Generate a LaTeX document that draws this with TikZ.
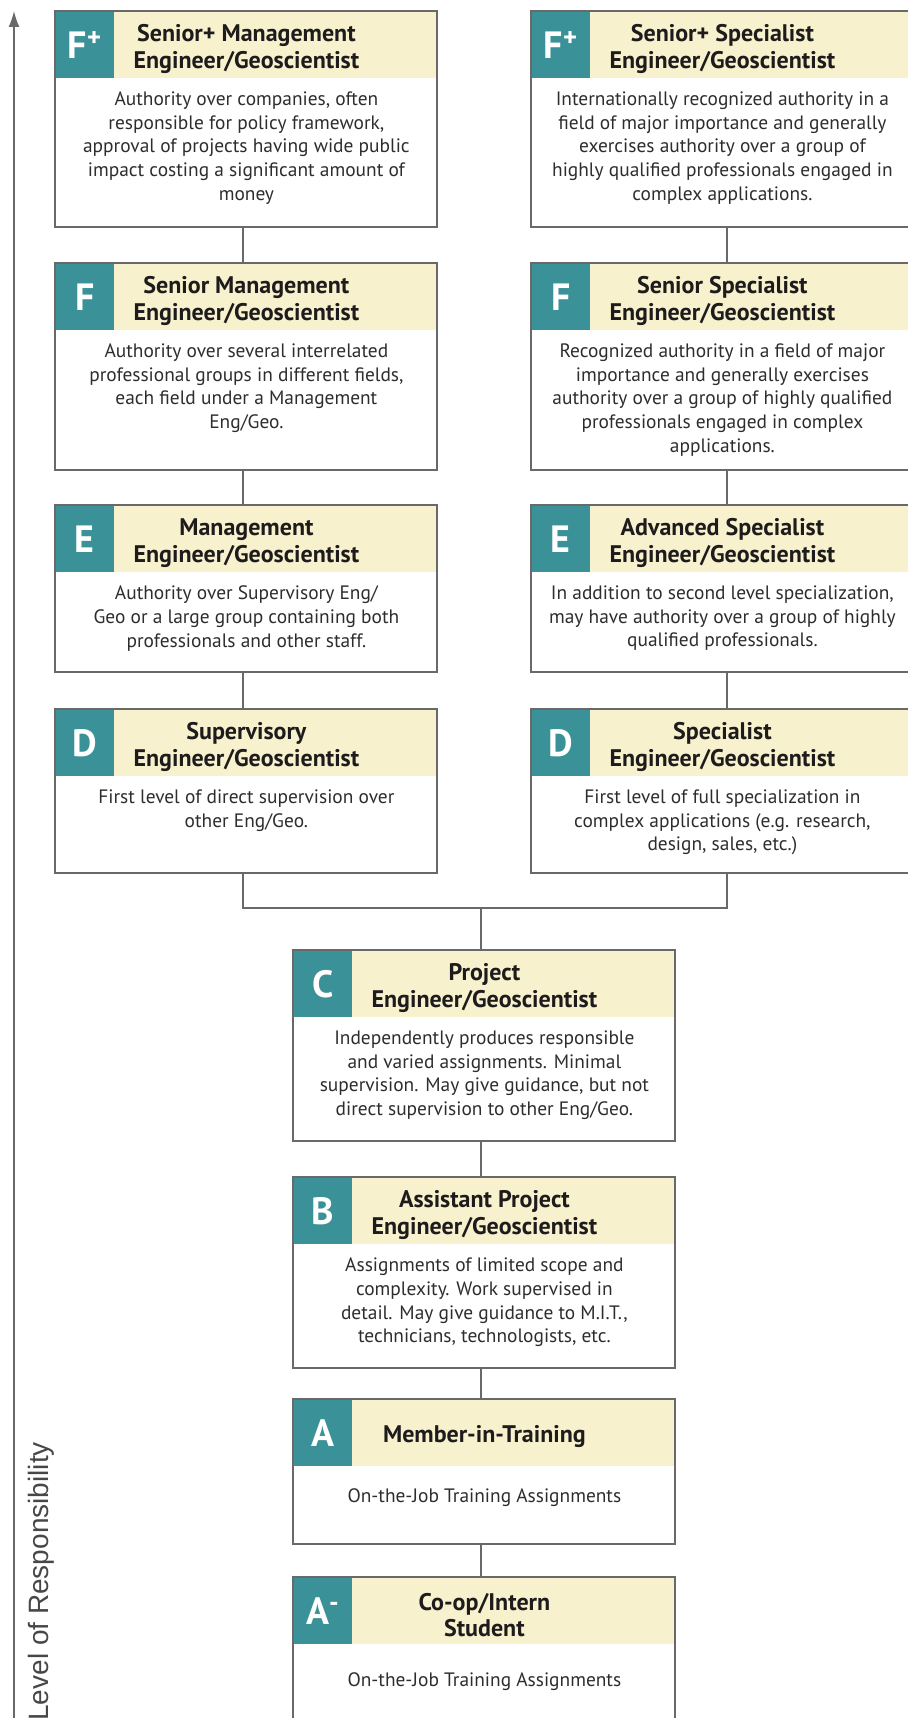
\documentclass[tikz,border=0pt]{standalone}
\usepackage{fontspec}
\setmainfont{PT Sans}
\setsansfont{Liberation Sans}
\usepackage{tikz}
\usetikzlibrary{arrows.meta,positioning,calc}
\definecolor{rankteal}{RGB}{58,145,152}
\definecolor{headcream}{RGB}{247,241,206}
\definecolor{linegray}{RGB}{105,105,105}
\definecolor{inkdark}{RGB}{30,27,28}
\definecolor{bodygray}{RGB}{45,45,45}

\tikzset{
  card/.style={draw=linegray, line width=0.75pt, anchor=north west, minimum width=191pt, inner sep=0pt, outer sep=0pt},
  head/.style={fill=headcream, anchor=north west, minimum width=191pt, minimum height=33.5pt, inner sep=0pt},
  title/.style={inner sep=0pt, align=center, text=inkdark, yshift=-2pt, font=\fontsize{12}{13.3}\selectfont\bfseries},
  tag/.style={fill=rankteal, anchor=north west, minimum width=29.5pt, minimum height=33.5pt, inner sep=0pt, text=white, font=\fontsize{19}{19}\selectfont\bfseries},
  desc/.style={anchor=north, inner sep=0pt, align=center, text=bodygray, yshift=-6.4pt, font=\fontsize{9.7}{11.8}\selectfont},
  link/.style={draw=linegray, line width=0.75pt}
}

\begin{document}
\begin{tikzpicture}[x=0.5pt, y=-0.5pt]
\useasboundingbox (0,0) rectangle (908,1718);
\clip (0,0) rectangle (908,1718);

% Axis
\coordinate (axbot) at (14,1740);
\coordinate (axtop) at (14,11);
\draw[link, -{Latex[length=8pt,width=5.5pt]}] (axbot) -- (axtop);
\node[rotate=90, anchor=base west, inner sep=0pt, text=black!72, font=\sffamily\fontsize{14}{14}\selectfont] (axlabel) at (48,1721) {Level of Responsibility};

% F+ management
\node[head] (fpmh) at (55,11) {};
\node[tag] (fpmt) at (fpmh.north west) {F\textsuperscript{+}};
\node[title] (fpmn) at (fpmh.center) {Senior+ Management\\Engineer/Geoscientist};
\node[card, minimum height=108pt] (fpm) at (55,11) {};
\node[desc] (fpmd) at (fpmh.south) {Authority over companies, often\\responsible for policy framework,\\approval of projects having wide public\\impact costing a significant amount of\\money};

% F+ specialist
\node[head] (fpsh) at (531,11) {};
\node[tag] (fpst) at (fpsh.north west) {F\textsuperscript{+}};
\node[title] (fpsn) at (fpsh.center) {Senior+ Specialist\\Engineer/Geoscientist};
\node[card, minimum height=108pt] (fps) at (531,11) {};
\node[desc] (fpsd) at (fpsh.south) {Internationally recognized authority in a\\field of major importance and generally\\exercises authority over a group of\\highly qualified professionals engaged in\\complex applications.};

% F management
\node[head] (fmh) at (55,263) {};
\node[tag] (fmt) at (fmh.north west) {F};
\node[title] (fmn) at (fmh.center) {Senior Management\\Engineer/Geoscientist};
\node[card, minimum height=103.5pt] (fm) at (55,263) {};
\node[desc] (fmd) at (fmh.south) {Authority over several interrelated\\professional groups in different fields,\\each field under a Management\\Eng/Geo.};

% F specialist
\node[head] (fsh) at (531,263) {};
\node[tag] (fst) at (fsh.north west) {F};
\node[title] (fsn) at (fsh.center) {Senior Specialist\\Engineer/Geoscientist};
\node[card, minimum height=103.5pt] (fs) at (531,263) {};
\node[desc] (fsd) at (fsh.south) {Recognized authority in a field of major\\importance and generally exercises\\authority over a group of highly qualified\\professionals engaged in complex\\applications.};

% E management
\node[head] (emh) at (55,505) {};
\node[tag] (emt) at (emh.north west) {E};
\node[title] (emn) at (emh.center) {Management\\Engineer/Geoscientist};
\node[card, minimum height=83.5pt] (em) at (55,505) {};
\node[desc] (emd) at (emh.south) {Authority over Supervisory Eng/\\Geo or a large group containing both\\professionals and other staff.};

% E specialist
\node[head] (esh) at (531,505) {};
\node[tag] (est) at (esh.north west) {E};
\node[title] (esn) at (esh.center) {Advanced Specialist\\Engineer/Geoscientist};
\node[card, minimum height=83.5pt] (es) at (531,505) {};
\node[desc] (esd) at (esh.south) {In addition to second level specialization,\\may have authority over a group of highly\\qualified professionals.};

% D management
\node[head] (dmh) at (55,709) {};
\node[tag] (dmt) at (dmh.north west) {D};
\node[title] (dmn) at (dmh.center) {Supervisory\\Engineer/Geoscientist};
\node[card, minimum height=82pt] (dm) at (55,709) {};
\node[desc] (dmd) at (dmh.south) {First level of direct supervision over\\other Eng/Geo.};

% D specialist
\node[head] (dsh) at (531,709) {};
\node[tag] (dst) at (dsh.north west) {D};
\node[title] (dsn) at (dsh.center) {Specialist\\Engineer/Geoscientist};
\node[card, minimum height=82pt] (ds) at (531,709) {};
\node[desc] (dsd) at (dsh.south) {First level of full specialization in\\complex applications (e.g. research,\\design, sales, etc.)};

% C
\node[head] (cch) at (293,950) {};
\node[tag] (cct) at (cch.north west) {C};
\node[title] (ccn) at (cch.center) {Project\\Engineer/Geoscientist};
\node[card, minimum height=95.5pt] (cc) at (293,950) {};
\node[desc] (ccd) at (cch.south) {Independently produces responsible\\and varied assignments. Minimal\\supervision. May give guidance, but not\\direct supervision to other Eng/Geo.};

% B
\node[head] (bbh) at (293,1177) {};
\node[tag] (bbt) at (bbh.north west) {B};
\node[title] (bbn) at (bbh.center) {Assistant Project\\Engineer/Geoscientist};
\node[card, minimum height=95.5pt] (bb) at (293,1177) {};
\node[desc] (bbd) at (bbh.south) {Assignments of limited scope and\\complexity. Work supervised in\\detail. May give guidance to M.I.T.,\\technicians, technologists, etc.};

% A
\node[head] (aah) at (293,1399) {};
\node[tag] (aat) at (aah.north west) {A};
\node[title] (aan) at (aah.center) {Member-in-Training};
\node[card, minimum height=72.5pt] (aa) at (293,1399) {};
\node[desc, yshift=-4.1pt] (aad) at (aah.south) {On-the-Job Training Assignments};

% A-
\node[head] (amh) at (293,1577) {};
\node[tag] (amt) at (amh.north west) {A\textsuperscript{-}};
\node[title] (amn) at (amh.center) {Co-op/Intern\\Student};
\node[card, minimum height=72.5pt] (am) at (293,1577) {};
\node[desc, yshift=-7.1pt] (amd) at (amh.south) {On-the-Job Training Assignments};

% Connectors
\draw[link] ([xshift=-1.5pt]fpm.south) -- ([xshift=-1.5pt]fm.north);
\draw[link] ([xshift=-1.5pt]fm.south) -- ([xshift=-1.5pt]em.north);
\draw[link] ([xshift=-1.5pt]em.south) -- ([xshift=-1.5pt]dm.north);
\draw[link] ([xshift=2.5pt]fps.south) -- ([xshift=2.5pt]fs.north);
\draw[link] ([xshift=2.5pt]fs.south) -- ([xshift=2.5pt]es.north);
\draw[link] ([xshift=2.5pt]es.south) -- ([xshift=2.5pt]ds.north);
\coordinate (fork) at (481,908);
\draw[link] ([xshift=-1.5pt]dm.south) |- (fork) -| ([xshift=2.5pt]ds.south);
\draw[link] (fork) -- ([xshift=-1.5pt]cc.north);
\draw[link] ([xshift=-1.5pt]cc.south) -- ([xshift=-1.5pt]bb.north);
\draw[link] ([xshift=-1.5pt]bb.south) -- ([xshift=-1.5pt]aa.north);
\draw[link] ([xshift=-1.5pt]aa.south) -- ([xshift=-1.5pt]am.north);
\end{tikzpicture}
\end{document}
